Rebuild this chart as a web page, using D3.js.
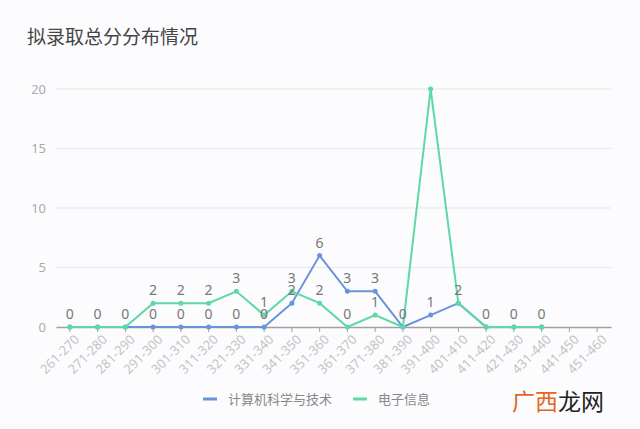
<!DOCTYPE html>
<html>
<head>
<meta charset="utf-8">
<script src="https://cdn.jsdelivr.net/npm/d3@7"></script>
<style>
  body { margin: 0; background: #fcfcfe; }
  svg { display: block; font-family: "Noto Sans CJK SC", "Noto Sans", sans-serif; }
</style>
</head>
<body>
<div id="chart"></div>
<script>
// score bands on the x axis
var categories = ['261-270', '271-280', '281-290', '291-300', '301-310', '311-320', '321-330',
  '331-340', '341-350', '351-360', '361-370', '371-380', '381-390', '391-400', '401-410',
  '411-420', '421-430', '431-440', '441-450', '451-460'];

// counts per band (last two bands have no data)
var csValues = [0, 0, 0, 0, 0, 0, 0, 0, 2, 6, 3, 3, 0, 1, 2, 0, 0, 0];
var eeValues = [0, 0, 0, 2, 2, 2, 3, 1, 3, 2, 0, 1, 0, 20, 2, 0, 0, 0];

var seriesNames = ['计算机科学与技术', '电子信息'];
var yTicks = [0, 5, 10, 15, 20];

var svgWidth = 640;
var svgHeight = 429;
var margin = { top: 89, right: 29, bottom: 102, left: 56 };
var chartWidth = svgWidth - margin.left - margin.right;
var chartHeight = svgHeight - margin.top - margin.bottom;

var svg = d3.select('#chart')
  .append('svg')
  .attr('width', svgWidth)
  .attr('height', svgHeight);

svg.append('rect')
  .attr('width', svgWidth)
  .attr('height', svgHeight)
  .attr('fill', '#fcfcfe');

// title
svg.append('text')
  .attr('x', 27)
  .attr('y', 44)
  .attr('font-size', '19px')
  .attr('fill', '#444')
  .text('拟录取总分分布情况');

var chartGroup = svg.append('g')
  .attr('transform', `translate(${margin.left}, ${margin.top})`);

var xScale = d3.scaleBand()
  .domain(categories)
  .range([0, chartWidth]);

var yScale = d3.scaleLinear()
  .domain([0, 20])
  .range([chartHeight, 0]);

var xPos = function(i) { return xScale(categories[i]) + xScale.bandwidth() / 2; };

// grid lines
chartGroup.selectAll('.grid')
  .data(yTicks.filter(d => d > 0))
  .enter()
  .append('line')
  .attr('x1', 0)
  .attr('x2', chartWidth)
  .attr('y1', d => yScale(d))
  .attr('y2', d => yScale(d))
  .attr('stroke', '#e6e6e6')
  .attr('stroke-width', 1);

// y axis labels
var leftAxis = d3.axisLeft(yScale).tickValues(yTicks).tickSize(0).tickPadding(10);
var yAxis = chartGroup.append('g').call(leftAxis);
yAxis.select('.domain').remove();
yAxis.selectAll('text')
  .attr('fill', '#aaa')
  .attr('font-size', '13px')
  .attr('font-family', '"Noto Sans", sans-serif');

// x axis
var bottomAxis = d3.axisBottom(xScale).tickSize(5).tickPadding(4).tickSizeOuter(0);
var xAxis = chartGroup.append('g')
  .attr('transform', `translate(0, ${chartHeight})`)
  .call(bottomAxis);
xAxis.select('.domain').attr('stroke', '#a0a0a0').attr('stroke-width', 1.5);
xAxis.selectAll('.tick line').attr('stroke', '#a0a0a0');
xAxis.selectAll('text')
  .attr('fill', '#c4c4c4')
  .attr('font-size', '13px')
  .attr('font-family', '"Noto Sans", sans-serif')
  .attr('text-anchor', 'end')
  .attr('dx', '-2px')
  .attr('dy', '0.6em')
  .attr('transform', 'rotate(-45)');

var series = [
  { name: seriesNames[0], values: csValues, color: '#6a93da' },
  { name: seriesNames[1], values: eeValues, color: '#5ed8a5' }
];

var line = d3.line()
  .x((d, i) => xPos(i))
  .y(d => yScale(d));

series.forEach(function(s) {
  chartGroup.append('path')
    .datum(s.values)
    .attr('d', line)
    .attr('fill', 'none')
    .attr('stroke', s.color)
    .attr('stroke-width', 2);

  chartGroup.selectAll(null)
    .data(s.values)
    .enter()
    .append('circle')
    .attr('cx', (d, i) => xPos(i))
    .attr('cy', d => yScale(d))
    .attr('r', 2.5)
    .attr('fill', s.color);
});

// value labels: the peak at the top edge has none in the original,
// and where both series share a value only one label is drawn
series.forEach(function(s, k) {
  var other = series[1 - k].values;
  chartGroup.selectAll(null)
    .data(s.values)
    .enter()
    .append('text')
    .attr('x', (d, i) => xPos(i))
    .attr('y', d => yScale(d) - 8)
    .attr('text-anchor', 'middle')
    .attr('font-size', '14px')
    .attr('font-family', '"Noto Sans", sans-serif')
    .attr('fill', '#777')
    .text((d, i) => (d >= 20 || (k === 0 && other[i] === d)) ? '' : d);
});

// legend
var legend = svg.append('g').attr('transform', 'translate(0, 399)');
var legendX = [203, 353];
series.forEach(function(s, i) {
  legend.append('line')
    .attr('x1', legendX[i])
    .attr('x2', legendX[i] + 14)
    .attr('y1', 0)
    .attr('y2', 0)
    .attr('stroke', s.color)
    .attr('stroke-width', 3);
  legend.append('text')
    .attr('x', legendX[i] + 25)
    .attr('y', 5)
    .attr('font-size', '13px')
    .attr('fill', '#888')
    .text(s.name);
});

// watermark
var mark = svg.append('text')
  .attr('x', 512)
  .attr('y', 410)
  .attr('font-size', '23px');
mark.append('tspan').attr('fill', '#e2661f').text('广西');
mark.append('tspan').attr('fill', '#222').text('龙网');
</script>
</body>
</html>
